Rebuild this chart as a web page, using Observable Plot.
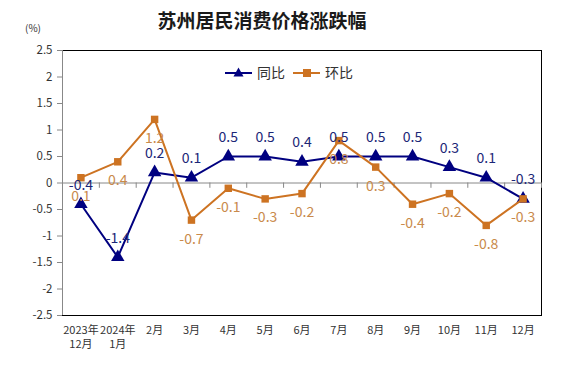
<!DOCTYPE html>
<html><head><meta charset="utf-8">
<script src="https://cdn.jsdelivr.net/npm/d3@7"></script>
<script src="https://cdn.jsdelivr.net/npm/@observablehq/plot@0.6"></script>
<style>
body{margin:0;background:#fff;font-family:"Noto Sans CJK SC","Noto Sans",sans-serif}
#wrap{position:relative;width:572px;height:365px;overflow:hidden}
#title{height:36px;line-height:36px;padding-top:2px;box-sizing:border-box;width:524px;text-align:center;font-size:19px;font-weight:bold;color:#1a1a1a}
#unit{position:absolute;left:25px;top:20px;font-size:10px;color:#333}
#legend{position:absolute;left:222px;top:63px;font-size:14px;color:#333}
#chart svg{display:block}
</style></head><body>
<div id="wrap">
<div id="title">苏州居民消费价格涨跌幅</div>
<div id="unit">(%)</div>
<div id="chart"></div>
<div id="legend"></div>
</div>
<script>
const months = ["2023年\n12月","2024年\n1月","2月","3月","4月","5月","6月","7月","8月","9月","10月","11月","12月"];
const yoy = [-0.4,-1.4,0.2,0.1,0.5,0.5,0.4,0.5,0.5,0.5,0.3,0.1,-0.3];
const mom = [0.1,0.4,1.2,-0.7,-0.1,-0.3,-0.2,0.8,0.3,-0.4,-0.2,-0.8,-0.3];
const yTicks = [-2.5,-2,-1.5,-1,-0.5,0,0.5,1,1.5,2,2.5];
const seriesNames = ["同比","环比"];
const navy = "#000080", navyText = "#1c2777";
const orange = "#cd7322", orangeText = "#c98a4b";

const data = months.map((m,i)=>({m, yoy:yoy[i], mom:mom[i]}));
const W=572,H=329,ML=62,MR=31,MT=14,MB=50;
const half = (W-ML-MR)/months.length/2;
const font = '"Noto Sans CJK SC","Noto Sans",sans-serif';

const chart = Plot.plot({
  width:W,height:H,marginLeft:ML,marginRight:MR,marginTop:MT,marginBottom:MB,
  style:{fontFamily:font,fontSize:"12px",color:"#333",background:"#fff"},
  x:{type:"point",domain:months,padding:0.5,round:false},
  y:{domain:[-2.5,2.5]},
  marks:[
    Plot.frame({stroke:"#000"}),
    Plot.ruleX([months[0]],{dx:-half,stroke:"#888"}),
    Plot.ruleY([0],{stroke:"#888"}),
    Plot.ruleX(months,{x:d=>d,y1:0,y2:-0.1,dx:half,stroke:"#888"}),
    Plot.axisY({ticks:yTicks,tickFormat:d=>String(d),tickSize:5,tickPadding:5,stroke:"#888",fill:"#333",label:null,fontSize:11.5}),
    Plot.axisX({tickSize:0,tickPadding:9,lineHeight:1.25,fill:"#333",label:null,fontSize:11}),
    Plot.line(data,{x:"m",y:"yoy",stroke:navy,strokeWidth:2}),
    Plot.dot(data,{x:"m",y:"yoy",symbol:"triangle",r:5,fill:navy,stroke:null}),
    Plot.line(data,{x:"m",y:"mom",stroke:orange,strokeWidth:2}),
    Plot.dot(data,{x:"m",y:"mom",symbol:"square",r:4.2,fill:orange,stroke:null}),
    Plot.text(data,{x:"m",y:"mom",text:d=>String(d.mom),dy:19,fill:orangeText,fontSize:14}),
    Plot.text(data,{x:"m",y:"yoy",text:d=>String(d.yoy),dy:-19,fill:navyText,fontSize:14})
  ]
});
document.getElementById("chart").appendChild(chart);

const lg = document.getElementById("legend");
lg.innerHTML = `<svg width="140" height="20" style="font-family:${font.replace(/"/g,"'")}">
<line x1="3" x2="30" y1="10" y2="10" stroke="${navy}" stroke-width="2"/>
<path d="M16.5,4.5 L21.5,13.5 L11.5,13.5Z" fill="${navy}"/>
<text x="35" y="15" font-size="14" fill="#333">${seriesNames[0]}</text>
<line x1="71" x2="98" y1="10" y2="10" stroke="${orange}" stroke-width="2"/>
<rect x="81" y="6" width="8" height="8" fill="${orange}"/>
<text x="103" y="15" font-size="14" fill="#333">${seriesNames[1]}</text>
</svg>`;
</script>
</body></html>
